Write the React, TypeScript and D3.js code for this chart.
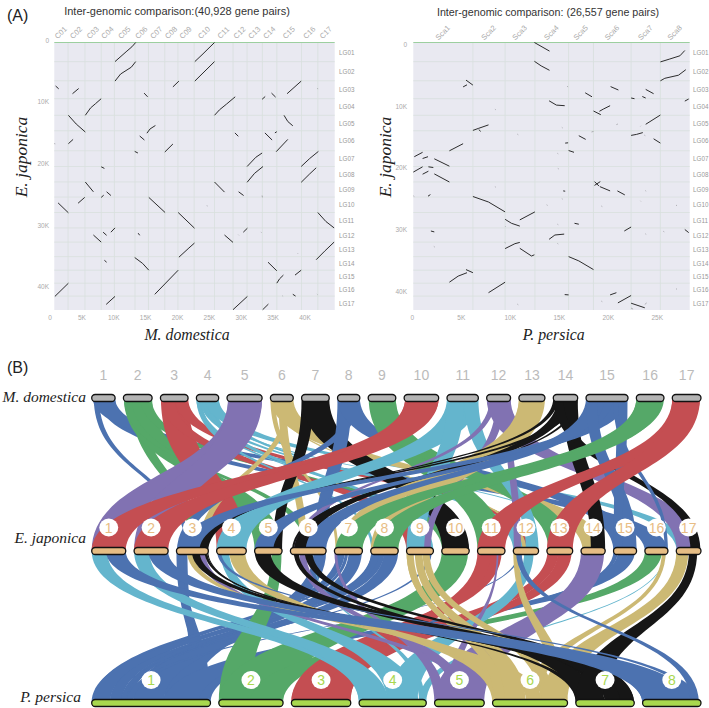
import React from "react";
import { path, scaleLinear, bisectRight, cumsum, sum, extent } from "d3";

// all sizes and positions below are in thousands of genes (the K of the dot plots)
const domesticaSizes = [2.2, 2.7, 2.6, 2.1, 3.3, 2.15, 2.6, 2.1, 2.6, 3.25, 2.95, 2.25, 2.45, 2.3, 3.95, 2.6, 2.7];
const japonicaSizes = [3.1, 3.1, 2.9, 2.7, 2.5, 3.25, 2.55, 2.5, 2.45, 2.5, 2.5, 2.3, 2.35, 2.2, 2.1, 2.1, 2.25];
const persicaSizes = [6.1, 3.3, 3.05, 3.45, 2.55, 3.85, 3.0, 3.0];

const domesticaNames = ["C01", "C02", "C03", "C04", "C05", "C06", "C07", "C08", "C09", "C10", "C11", "C12", "C13", "C14", "C15", "C16", "C17"];
const japonicaNames = ["LG01", "LG02", "LG03", "LG04", "LG05", "LG06", "LG07", "LG08", "LG09", "LG10", "LG11", "LG12", "LG13", "LG14", "LG15", "LG16", "LG17"];
const persicaNames = ["Sca1", "Sca2", "Sca3", "Sca4", "Sca5", "Sca6", "Sca7", "Sca8"];

const leftXTicks = [0, 5, 10, 15, 20, 25, 30, 35, 40];
const rightXTicks = [0, 5, 10, 15, 20, 25];
const yTicks = [0, 10, 20, 30, 40];

// seaborn deep, in the order the ribbons cycle through
const ribbonColors = ["#4c72b0", "#55a868", "#c44e52", "#64b5cd", "#8172b2", "#ccb974", "#161616"];

// synteny blocks as x,y,x,y... runs
const domesticaBlocks = [
  [9.7, 3.1, 11.6, 1.4, 12.4, 0.7, 13, 0],
  [22.45, 3.1, 23.6, 2, 25.6, 0],
  [9.7, 6.25, 10.6, 5.1, 12.3, 4, 13, 3.1],
  [22.45, 6.25, 25.6, 3.1],
  [18.95, 7.2, 19.9, 6.25],
  [0.2, 7.05, 0.7, 7.5],
  [2.9, 8.3, 3.9, 7.45],
  [14.35, 8.2, 14.9, 8.8],
  [37.2, 8.3, 39.45, 6.25],
  [42.0, 7.45, 42.15, 7.5],
  [4.95, 11.8, 5.8, 10.6, 6.6, 9.9, 7.5, 9.1],
  [25.6, 11.8, 26.4, 10.9, 27.5, 10, 28.9, 8.8],
  [33.2, 9.2, 33.7, 8.75],
  [34.7, 8.2, 35.35, 8.85],
  [2.25, 11.8, 3.5, 13.2, 4.95, 14.5],
  [36.7, 11.8, 37.3, 12.8, 38.1, 13.5],
  [2.25, 16.4, 3.0, 15.7],
  [13.65, 15.15, 14.4, 15.8],
  [14.8, 14.7, 15.3, 14, 16.15, 13.45],
  [28.85, 14.65, 29.4, 15.2],
  [33.65, 14.65, 34.8, 15.8],
  [35.25, 14.65, 35.55, 14.45],
  [17.65, 17.75, 18.95, 16.45],
  [35.45, 17.7, 37.3, 15.7],
  [12.85, 17.65, 13.35, 17.9],
  [30.8, 20.1, 32.2, 18.6, 33.2, 17.9],
  [39.45, 20.1, 40.8, 18.8, 42.2, 17.65],
  [7.5, 20.15, 8.0, 20.4],
  [30.8, 22.65, 32, 21.2, 33.35, 20.1],
  [39.45, 22.65, 40.8, 21.3, 41.85, 20.3],
  [4.95, 22.6, 6.25, 24.2],
  [25.6, 22.6, 27.2, 24.25],
  [3.8, 26.05, 4.85, 25.1],
  [7.5, 25.1, 7.9, 24.75],
  [8.35, 24.2, 9.05, 24.8],
  [29.45, 24.2, 30.25, 24.8],
  [33.2, 24.8, 33.25, 25.1],
  [15.1, 25.1, 17.7, 27.55],
  [24.35, 26.45, 24.5, 26.5],
  [0.6, 26, 2.25, 27.6],
  [19.8, 27.55, 22.4, 30.1],
  [42.1, 27.55, 43.4, 29, 44.7, 30.05],
  [9.05, 30.75, 9.7, 30.05],
  [7.8, 30.75, 8.35, 31.25],
  [6.25, 31.2, 7.5, 32.35],
  [13.4, 30.9, 13.65, 31.25],
  [27.2, 31.2, 28.55, 32.4],
  [29.4, 31.15, 29.5, 31.25],
  [30.2, 30.75, 30.85, 30.1],
  [33, 30.7, 33.1, 30.8],
  [19.9, 34.8, 21.5, 33.3, 22.4, 32.5],
  [41.85, 35.2, 43.2, 33.8, 44.7, 32.35],
  [38.85, 34.15, 38.95, 34.25],
  [8.0, 35.3, 8.35, 35.6],
  [12.85, 34.85, 14.1, 35.8, 15.1, 36.9],
  [34.15, 35.6, 35.55, 37.0],
  [35.55, 39, 36, 38.3, 36.6, 37.7],
  [38.45, 37.7, 39.45, 36.9],
  [16.05, 40.8, 19.8, 36.9],
  [0.1, 41.15, 2.25, 39],
  [36.45, 41.05, 36.55, 41.15],
  [38.1, 40.8, 38.55, 41.1],
  [41.95, 40.75, 42.05, 40.85],
  [8.3, 42.45, 9.7, 41.15],
  [28.55, 43.3, 30.85, 41.15],
  [33.3, 43.3, 34.2, 42.4],
  [0.05, 16.3, 0.1, 16.5],
];

const persicaBlocks = [
  [12.4, 0, 13.95, 1.4],
  [12.4, 3.05, 13.1, 3.8, 13.95, 4.5],
  [25.3, 3.15, 26.2, 2.7, 27.3, 2.15, 27.8, 1.3],
  [25.3, 6.2, 25.75, 5.8, 27.15, 5.3, 27.9, 4.4],
  [5.4, 6.1, 6.1, 6.9],
  [5.1, 7.2, 5.5, 6.85],
  [20.2, 7.15, 21, 7.7],
  [15.75, 7.1, 15.85, 7.2],
  [17.6, 8.15, 18.3, 8.8],
  [23.8, 7.6, 24.6, 8.3],
  [23.45, 8.75, 23.8, 9],
  [22.3, 9, 22.65, 9.1],
  [27.8, 9.5, 28.2, 9.15],
  [13.9, 9.45, 14.65, 10.15, 15.5, 10.25],
  [8.35, 10.8, 8.45, 10.9],
  [18.45, 11.1, 19.2, 11.7],
  [19.05, 11.15, 19.45, 10.8, 20.15, 10.25],
  [6.1, 14.25, 6.7, 13.9, 7.7, 13.35],
  [6.7, 14.1, 6.9, 14.4],
  [15.2, 13.75, 15.3, 13.85],
  [20.8, 13.3, 20.95, 13.2],
  [23.25, 13.6, 23.3, 13.5],
  [23.8, 13.25, 25.3, 11.75],
  [22.3, 15.05, 22.85, 14.9, 23.5, 14.6],
  [10.65, 14.85, 10.75, 14.95],
  [23.65, 15, 23.75, 15.1],
  [18.25, 14.5, 18.45, 14.4],
  [16.95, 15.1, 17.65, 15.7],
  [24.6, 15.6, 25.3, 16.3],
  [15.55, 16.3, 15.85, 16.25],
  [3.7, 17.55, 5.1, 16.4],
  [15.9, 17.5, 16.45, 17.8],
  [14.75, 17.95, 14.85, 18.05],
  [0.1, 18.5, 0.95, 17.8],
  [0.95, 18.8, 1.5, 18.5],
  [2.15, 18.85, 3.7, 20.05],
  [0, 21, 0.95, 20.15],
  [0.95, 21.35, 1.55, 20.85],
  [1.55, 20.15, 2.05, 20.25],
  [2.15, 21.3, 3.7, 22.6],
  [14.8, 20.4, 14.9, 20.5],
  [18.55, 22.55, 19, 23.25],
  [18.55, 23.15, 19.15, 22.55],
  [19.1, 23.35, 20.15, 24.05],
  [20.9, 24.05, 21.65, 24.7],
  [15.35, 24.05, 15.55, 24.1],
  [8.35, 23.35, 8.45, 23.45],
  [23.75, 24, 23.85, 24.1],
  [0, 24.85, 0.1, 24.95],
  [1.5, 24.9, 1.75, 24.65],
  [23.25, 25.65, 23.3, 25.75],
  [15.2, 25.3, 15.3, 25.4],
  [6.1, 24.95, 7.7, 25.85, 9.4, 27.45],
  [13.65, 26.3, 13.75, 26.4],
  [19.25, 26.5, 19.35, 26.6],
  [26.9, 26.35, 27, 26.45],
  [9.4, 28.65, 10.05, 29.3, 10.9, 29.75],
  [10.9, 28.75, 12.45, 27.45],
  [14.75, 29.45, 14.85, 29.55],
  [9.4, 29.75, 9.45, 29.85],
  [1.8, 30.55, 2.15, 30.7],
  [16.5, 29.3, 16.95, 29.45],
  [21.6, 30.55, 22.3, 29.9],
  [23.75, 31, 23.85, 31.1],
  [25.6, 30.6, 25.7, 30.7],
  [13.9, 31.9, 14.5, 31.2, 15.45, 31.05],
  [14.75, 32.55, 14.85, 32.65],
  [27.8, 30.3, 28.2, 30.8],
  [9.35, 32.4, 9.45, 32.5],
  [9.4, 33.4, 10.4, 32.6, 10.9, 32.4],
  [10.9, 33.35, 12.1, 34.6, 12.4, 34.4],
  [2.1, 33.05, 2.2, 33.15],
  [15.9, 34.7, 16.95, 35.4, 18.45, 36.8],
  [5.4, 36.8, 6.1, 37.3],
  [3.7, 38.85, 4.6, 37.85, 5.5, 37.3],
  [7.7, 40.55, 9.4, 38.85],
  [15.5, 40.85, 15.9, 40.9],
  [20.15, 40.9, 20.8, 40.55],
  [20.95, 42.2, 22.3, 41],
  [19.25, 41.9, 19.35, 42],
  [26.9, 39.9, 27, 40],
  [10.65, 42.4, 10.75, 42.5],
  [22.3, 42.25, 23.7, 43],
  [22.3, 43.05, 22.5, 43.2],
  [23.7, 42.45, 23.9, 42.2],
];

const mono = "'Liberation Sans', Arial, sans-serif";
const serif = "'Liberation Serif', 'Times New Roman', serif";

function DotPlot({ blocks, xSizes, xNames, xMax, x0, x1, xTicks, tickX, yTickRight, yTickShift, lgX, title, titleSize, titleX, titleY, yName, yNameX, xName, xNameX }: any) {
  const x = scaleLinear().domain([0, xMax]).range([x0, x1]);
  const y = scaleLinear().domain([0, 43.35]).range([42.5, 310]);
  const xEnds = Array.from(cumsum(xSizes)) as number[];
  const yEnds = Array.from(cumsum(japonicaSizes)) as number[];
  return (
    <g fontFamily={mono}>
      <rect x={x0} y={42.5} width={x1 - x0} height={267.5} fill="#e9e9f1" />
      {xEnds.slice(0, -1).map((v, i) => (
        <line key={i} x1={x(v)} x2={x(v)} y1={42.5} y2={310} stroke="#d8dfdd" strokeWidth={0.8} />
      ))}
      {yEnds.slice(0, -1).map((v, i) => (
        <line key={i} x1={x0} x2={x1} y1={y(v)} y2={y(v)} stroke="#d8dfdd" strokeWidth={0.8} />
      ))}
      <line x1={x0} x2={x1} y1={42.5} y2={42.5} stroke="#9ccf9f" strokeWidth={1} />
      {blocks.map((b: number[], i: number) => {
        const pts = [];
        for (let k = 0; k < b.length; k += 2) pts.push(`${x(b[k]).toFixed(1)},${y(b[k + 1]).toFixed(1)}`);
        return <polyline key={i} points={pts.join(" ")} fill="none" stroke="#222" strokeWidth={b.length > 4 || Math.abs(b[0] - b[2]) > 0.2 ? 0.95 : 0.6} opacity={Math.abs(b[0] - b[2]) > 0.2 ? 1 : 0.5} />;
      })}
      {xNames.map((n: string, i: number) => {
        const mid = (xEnds[i] - xSizes[i] / 2);
        return (
          <text key={n} transform={`translate(${x(mid)},33) rotate(-45)`} textAnchor="middle" dominantBaseline="middle" fontSize={7.5} fill="#aaa">{n}</text>
        );
      })}
      {japonicaNames.map((n, i) => (
        <text key={n} x={lgX} y={y(yEnds[i] - japonicaSizes[i] / 2) + 2.5} fontSize={6.3} fill="#999">{n}</text>
      ))}
      {xTicks.map((v: number) => (
        <text key={v} x={tickX(v)} y={319.5} textAnchor="middle" fontSize={6.5} fill="#aaa">{v === 0 ? "0" : `${v}K`}</text>
      ))}
      {yTicks.map((v) => (
        <text key={v} x={yTickRight} y={y(v) + yTickShift} textAnchor="end" fontSize={6.5} fill="#aaa">{v === 0 ? "0" : `${v}K`}</text>
      ))}
      <text x={titleX} y={titleY} textAnchor="middle" fontSize={titleSize} fill="#333">{title}</text>
      <text transform={`translate(${yNameX},157) rotate(-90)`} textAnchor="middle" fontFamily={serif} fontStyle="italic" fontSize={17.5} fill="#222">{yName}</text>
      <text x={xNameX} y={340} textAnchor="middle" fontFamily={serif} fontStyle="italic" fontSize={15.8} fill="#222">{xName}</text>
    </g>
  );
}

// one row of chromosome bars: sizes laid end to end with a fixed pixel gap
function makeRow(sizes: number[]) {
  const gap = 8.3;
  const k = scaleLinear().domain([0, sum(sizes)]).range([91.7, 701 - gap * (sizes.length - 1)]);
  const ends = Array.from(cumsum(sizes)) as number[];
  const bars = sizes.map((s, i) => ({ x0: k(ends[i] - s) + gap * i, x1: k(ends[i]) + gap * i }));
  const chrOf = (v: number) => Math.min(bisectRight(ends, v), sizes.length - 1);
  const at = (v: number, i: number) => {
    const p = k(v) + gap * i;
    return Math.max(bars[i].x0, Math.min(bars[i].x1, p));
  };
  return { bars, chrOf, at };
}

function ribbonPath(a0: number, a1: number, ya: number, b0: number, b1: number, yb: number) {
  const mid = (ya + yb) / 2;
  const p = path();
  p.moveTo(a0, ya);
  p.lineTo(a1, ya);
  p.bezierCurveTo(a1, mid, b1, mid, b1, yb);
  p.lineTo(b0, yb);
  p.bezierCurveTo(b0, mid, a0, mid, a0, ya);
  p.closePath();
  return p.toString();
}

// ribbons come straight from the dot plot blocks, lower numbered outer chromosomes go underneath
function makeRibbons(blocks: number[][], outer: any, inner: any, yOuter: number, yInner: number, minSpan: number) {
  const out: { d: string; chr: number }[] = [];
  blocks.forEach((b) => {
    const xs = b.filter((_, i) => i % 2 === 0);
    const ys = b.filter((_, i) => i % 2 === 1);
    const [xa, xb] = extent(xs) as [number, number];
    const [ya, yb] = extent(ys) as [number, number];
    if (xb - xa < minSpan) return;
    const oc = outer.chrOf((xa + xb) / 2);
    const ic = inner.chrOf((ya + yb) / 2);
    out.push({ d: ribbonPath(outer.at(xa, oc), outer.at(xb, oc), yOuter, inner.at(ya, ic), inner.at(yb, ic), yInner), chr: oc });
  });
  return out.sort((p, q) => p.chr - q.chr);
}

function Bars({ row, y, fill }: any) {
  return row.bars.map((b: any, i: number) => (
    <rect key={i} x={b.x0} y={y - 3.5} width={b.x1 - b.x0} height={7} rx={3.5} fill={fill} stroke="#111" strokeWidth={1.3} />
  ));
}

export default function App() {
  const topRow = makeRow(domesticaSizes);
  const midRow = makeRow(japonicaSizes);
  const botRow = makeRow(persicaSizes);
  const yTop = 398;
  const yMid = 551;
  const yBot = 703;
  const upper = makeRibbons(domesticaBlocks, topRow, midRow, yTop, yMid, 0.25);
  const lower = makeRibbons(persicaBlocks, botRow, midRow, yBot, yMid, 0.25);

  return (
    <svg width={709} height={708} style={{ position: "absolute", left: 0, top: 0 }}>
      <rect width={709} height={708} fill="#fff" />
      <text x={7} y={20.5} fontFamily={mono} fontSize={16} fill="#222">(A)</text>
      <text x={7} y={372.5} fontFamily={mono} fontSize={16} fill="#222">(B)</text>

      <DotPlot
        blocks={domesticaBlocks} xSizes={domesticaSizes} xNames={domesticaNames} xMax={44.8} x0={54.3} x1={334.7}
        xTicks={leftXTicks} tickX={scaleLinear().domain([0, 40]).range([50, 305])} yTickRight={49} yTickShift={0}
        lgX={339} title="Inter-genomic comparison:(40,928 gene pairs)" titleSize={11} titleX={177} titleY={14.5}
        yName="E. japonica" yNameX={27} xName="M. domestica" xNameX={187}
      />
      <DotPlot
        blocks={persicaBlocks} xSizes={persicaSizes} xNames={persicaNames} xMax={28.3} x0={413.3} x1={689.7}
        xTicks={rightXTicks} tickX={scaleLinear().domain([0, 25]).range([412.3, 657.3])} yTickRight={407} yTickShift={4.3}
        lgX={693} title="Inter-genomic comparison: (26,557 gene pairs)" titleSize={10.7} titleX={548} titleY={16}
        yName="E. japonica" yNameX={391} xName="P. persica" xNameX={553.7}
      />

      {upper.map((r, i) => <path key={i} d={r.d} fill={ribbonColors[r.chr % 7]} />)}
      {lower.map((r, i) => <path key={i} d={r.d} fill={ribbonColors[r.chr % 7]} />)}

      <Bars row={topRow} y={yTop} fill="#b4b4b4" />
      <Bars row={midRow} y={yMid} fill="#e6bd84" />
      <Bars row={botRow} y={yBot} fill="#a8d84e" />

      {topRow.bars.map((b, i) => (
        <text key={i} x={(b.x0 + b.x1) / 2} y={380} textAnchor="middle" fontFamily={mono} fontSize={14} fill="#bbb">{i + 1}</text>
      ))}
      {midRow.bars.map((b, i) => (
        <g key={i}>
          <ellipse cx={(b.x0 + b.x1) / 2} cy={527.5} rx={9.5} ry={9} fill="#fff" />
          <text x={(b.x0 + b.x1) / 2} y={532.5} textAnchor="middle" fontFamily={mono} fontSize={14} fill="#e8bd85">{i + 1}</text>
        </g>
      ))}
      {botRow.bars.map((b, i) => (
        <g key={i}>
          <ellipse cx={(b.x0 + b.x1) / 2} cy={680} rx={9.5} ry={9} fill="#fff" />
          <text x={(b.x0 + b.x1) / 2} y={685} textAnchor="middle" fontFamily={mono} fontSize={14} fill="#a8d84e">{i + 1}</text>
        </g>
      ))}

      <g fontFamily={serif} fontStyle="italic" fontSize={15.5} fill="#222" textAnchor="end">
        <text x={86} y={402}>M. domestica</text>
        <text x={86} y={543}>E. japonica</text>
        <text x={81} y={702}>P. persica</text>
      </g>
    </svg>
  );
}
